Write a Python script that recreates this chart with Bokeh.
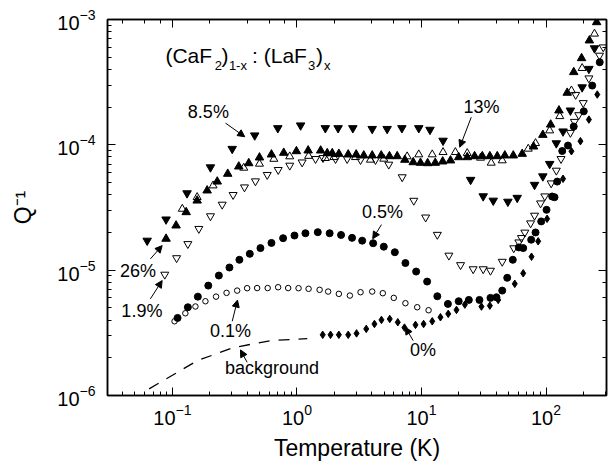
from bokeh.plotting import figure
from bokeh.models import (Label, Arrow, NormalHead, LogAxis, LogTicker,
                          CustomJSTickFormatter, Range1d)
from bokeh.embed import file_html
from bokeh.resources import INLINE

# ---------------- data ----------------
# 8.5 %  (filled down triangles)
t85 = [0.0627, 0.0889, 0.131, 0.202, 0.302, 0.458, 0.702, 1.07, 1.69, 2.14,
       2.81, 4.02, 5.30, 6.96, 9.51, 11.7, 14.9, 24.8, 31.3, 37.7,
       49.4, 58.7, 80.9, 94.3, 107, 121, 137, 157, 195, 221, 245]
q85 = [1.72e-5, 2.54e-5, 4.11e-5, 6.62e-5, 9.29e-5, 1.19e-4, 1.36e-4, 1.43e-4, 1.36e-4, 1.36e-4,
       1.36e-4, 1.34e-4, 1.34e-4, 1.36e-4, 1.36e-4, 1.32e-4, 1.08e-4, 5.26e-5, 3.89e-5, 3.59e-5,
       3.52e-5, 3.78e-5, 4.80e-5, 5.61e-5, 7.05e-5, 1.03e-4, 1.28e-4, 1.88e-4, 2.88e-4, 4.04e-4, 5.90e-4]

# 26 %  (filled up triangles)
t26 = [0.0889, 0.107, 0.129, 0.158, 0.190, 0.229, 0.278, 0.341, 0.410, 0.500,
       0.624, 0.783, 0.99, 1.23, 1.55, 1.75, 1.92, 2.17, 2.58, 2.99,
       3.44, 4.02, 4.75, 5.53, 6.38, 7.35, 8.58, 9.82, 11.2, 12.9,
       14.8, 17.1, 19.9, 23.3, 26.7, 30.8, 35.4, 40.6, 46.7, 54.6,
       64.4, 79.4, 94.3, 109, 127, 148, 167, 193, 223, 255]
q26 = [1.78e-5, 2.27e-5, 2.90e-5, 3.59e-5, 4.32e-5, 5.09e-5, 5.87e-5, 6.71e-5, 7.13e-5, 7.92e-5,
       8.37e-5, 8.63e-5, 8.89e-5, 9.01e-5, 9.00e-5, 8.57e-5, 8.57e-5, 8.47e-5, 8.37e-5, 8.37e-5,
       8.22e-5, 8.22e-5, 8.22e-5, 8.11e-5, 8.11e-5, 7.59e-5, 7.26e-5, 7.18e-5, 7.13e-5, 7.18e-5,
       7.36e-5, 7.50e-5, 7.96e-5, 7.96e-5, 8.11e-5, 8.11e-5, 8.11e-5, 8.11e-5, 8.22e-5, 8.22e-5,
       8.47e-5, 9.69e-5, 1.20e-4, 1.45e-4, 1.88e-4, 2.60e-4, 3.80e-4, 4.91e-4, 6.80e-4, 9.51e-4]

# 13 %  (open up triangles)
t13 = [0.120, 0.158, 0.212, 0.374, 0.500, 0.652, 0.875, 1.24, 1.69, 1.98,
       2.95, 3.89, 4.98, 7.67, 9.51, 12.2, 14.9, 18.7, 23.3, 29.8,
       36.3, 44.5, 72.0, 82.4, 107, 129, 160, 195, 245]
q13 = [3.08e-5, 3.82e-5, 4.73e-5, 6.55e-5, 7.05e-5, 7.71e-5, 8.07e-5, 8.14e-5, 7.82e-5, 7.96e-5,
       7.96e-5, 7.59e-5, 7.73e-5, 8.07e-5, 8.37e-5, 8.37e-5, 8.73e-5, 8.73e-5, 8.57e-5, 7.87e-5,
       7.18e-5, 7.50e-5, 9.29e-5, 1.03e-4, 1.30e-4, 1.69e-4, 2.71e-4, 4.09e-4, 7.69e-4]

# 1.9 %  (open down triangles)
t19 = [0.0868, 0.108, 0.133, 0.163, 0.202, 0.251, 0.307, 0.379, 0.464, 0.577,
       0.707, 0.875, 1.10, 1.41, 1.62, 2.04, 2.53, 3.24, 4.27, 5.46,
       7.00, 8.67, 10.8, 13.4, 16.6, 20.6, 26.0, 31.3, 35.8, 44.5,
       55.1, 60.5, 63.5, 67.6, 75.2, 80.9, 90.4, 97.8, 110, 121,
       132, 157, 169, 173, 183, 199, 221, 269, 288]
q19 = [9.23e-6, 1.25e-5, 1.62e-5, 2.14e-5, 2.70e-5, 3.34e-5, 3.99e-5, 4.59e-5, 5.13e-5, 5.77e-5,
       6.32e-5, 6.84e-5, 7.26e-5, 7.73e-5, 7.87e-5, 7.73e-5, 7.73e-5, 7.59e-5, 7.59e-5, 6.97e-5,
       5.53e-5, 3.59e-5, 2.64e-5, 1.92e-5, 1.31e-5, 1.10e-5, 1.02e-5, 1.02e-5, 9.93e-6, 1.17e-5,
       1.50e-5, 1.67e-5, 1.81e-5, 2.00e-5, 2.37e-5, 2.73e-5, 3.42e-5, 3.89e-5, 4.94e-5, 6.24e-5,
       7.73e-5, 1.25e-4, 1.53e-4, 2.51e-4, 1.73e-4, 2.16e-4, 3.40e-4, 5.16e-4, 6.01e-4]

# 0.5 %  (filled circles)
t05 = [0.110, 0.133, 0.160, 0.194, 0.236, 0.287, 0.345, 0.418, 0.509, 0.624,
       0.774, 0.955, 1.17, 1.47, 1.83, 2.26, 2.77, 3.34, 4.09, 4.98,
       6.11, 7.43, 9.06, 11.1, 13.4, 16.3, 19.9, 24.0, 29.2, 35.8,
       40.0, 44.5, 48.8, 54.1, 60.5, 65.6, 76.0, 82.4, 91.5, 101,
       112, 117, 123, 135, 150, 167, 201, 235, 270]
q05 = [4.16e-6, 5.06e-6, 6.15e-6, 7.53e-6, 9.06e-6, 1.05e-5, 1.21e-5, 1.35e-5, 1.50e-5, 1.65e-5,
       1.80e-5, 1.89e-5, 1.97e-5, 2.01e-5, 1.97e-5, 1.91e-5, 1.81e-5, 1.72e-5, 1.64e-5, 1.54e-5,
       1.39e-5, 1.14e-5, 9.75e-6, 8.11e-6, 6.19e-6, 5.38e-6, 5.65e-6, 5.79e-6, 5.79e-6, 6.01e-6,
       6.08e-6, 6.87e-6, 8.69e-6, 1.21e-5, 1.52e-5, 1.50e-5, 1.75e-5, 2.00e-5, 2.45e-5, 3.03e-5,
       3.87e-5, 3.82e-5, 5.09e-5, 8.93e-5, 9.87e-5, 1.40e-4, 1.85e-4, 2.97e-4, 4.56e-4]

# 0.1 %  (open circles)
t01 = [0.104, 0.127, 0.153, 0.184, 0.224, 0.272, 0.331, 0.398, 0.479, 0.582,
       0.706, 0.850, 1.03, 1.24, 1.52, 1.78, 2.17, 2.66, 3.24, 4.02,
       4.89, 5.99, 7.43, 9.24, 11.4]
q01 = [3.91e-6, 4.53e-6, 5.13e-6, 5.65e-6, 6.15e-6, 6.59e-6, 6.87e-6, 7.18e-6, 7.20e-6, 7.20e-6,
       7.31e-6, 7.20e-6, 7.18e-6, 7.10e-6, 6.97e-6, 6.75e-6, 6.47e-6, 6.27e-6, 6.67e-6, 6.75e-6,
       6.55e-6, 6.01e-6, 5.45e-6, 5.06e-6, 4.79e-6]

# 0 %  (filled diamonds)
t00 = [1.61, 1.86, 2.17, 2.58, 3.01, 3.60, 4.19, 4.77, 5.56, 6.45,
       7.30, 8.95, 10.4, 12.2, 14.2, 16.4, 19.1, 22.3, 30.3, 35.4,
       41.3, 56.1, 65.6, 76.5, 86.5, 102, 137, 160, 189, 221, 258]
q00 = [3.05e-6, 3.05e-6, 3.05e-6, 3.05e-6, 3.13e-6, 3.40e-6, 3.72e-6, 4.01e-6, 4.08e-6, 3.84e-6,
       3.48e-6, 3.66e-6, 3.72e-6, 3.91e-6, 4.21e-6, 4.48e-6, 4.82e-6, 5.31e-6, 5.12e-6, 5.21e-6,
       5.79e-6, 7.78e-6, 9.44e-6, 1.28e-5, 1.70e-5, 2.57e-5, 5.36e-5, 8.89e-5, 1.07e-4, 1.59e-4, 2.52e-4]

# background (dashed line)
bg_t = [0.065, 0.159, 0.309, 0.612, 1.21]
bg_q = [1.13e-6, 1.90e-6, 2.41e-6, 2.74e-6, 2.84e-6]

x_lo, x_hi = 0.0301, 306.0
y_lo, y_hi = 1e-6, 1e-3

FONT = "Liberation Sans"

p = figure(width=610, height=464, x_axis_type="log", y_axis_type="log",
           x_range=Range1d(x_lo, x_hi), y_range=Range1d(y_lo, y_hi),
           output_backend="svg", toolbar_location=None,
           min_border_left=107, min_border_right=4, min_border_top=19,
           min_border_bottom=69)
p.grid.visible = False
p.background_fill_color = "white"
p.border_fill_color = "white"
p.outline_line_color = "black"
p.outline_line_width = 1.5

def style_axis(ax):
    ax.axis_line_color = "black"
    ax.axis_line_width = 1.5
    ax.major_tick_in = 8
    ax.major_tick_out = 0
    ax.minor_tick_in = 4
    ax.minor_tick_out = 0
    ax.major_tick_line_color = "black"
    ax.minor_tick_line_color = "black"
    ax.major_tick_line_width = 1
    ax.minor_tick_line_width = 1

for ax in (p.xaxis[0], p.yaxis[0]):
    style_axis(ax)
    ax.major_label_text_font = FONT
    ax.major_label_text_font_size = "20px"
    ax.major_label_text_color = "black"
    ax.axis_label_text_font = FONT
    ax.axis_label_text_font_size = "23px"
    ax.axis_label_text_font_style = "normal"
    ax.axis_label_text_color = "black"

p.xaxis[0].major_label_standoff = 8
p.xaxis[0].axis_label = "Temperature (K)"
p.xaxis[0].axis_label_standoff = 7
p.yaxis[0].major_label_standoff = 12
p.yaxis[0].axis_label = "Q\u207b\u00b9"
p.yaxis[0].axis_label_standoff = 18

for side in ("right", "above"):
    ax = LogAxis(ticker=LogTicker(),
                 formatter=CustomJSTickFormatter(code="return ''"))
    style_axis(ax)
    ax.major_label_text_font_size = "0px"
    ax.major_label_standoff = 0
    p.add_layout(ax, side)

# ---------------- marks ----------------
p.line(bg_t, bg_q, line_color="black", line_width=1.3, line_dash="11 9")
p.scatter(t85, q85, marker="inverted_triangle", size=8.5,
          fill_color="black", line_color="black")
p.scatter(t26, q26, marker="triangle", size=8.5,
          fill_color="black", line_color="black")
p.scatter(t13, q13, marker="triangle", size=8,
          fill_color=None, line_color="black", line_width=1)
p.scatter(t19, q19, marker="inverted_triangle", size=8,
          fill_color=None, line_color="black", line_width=1)
p.scatter(t05, q05, marker="circle", size=7,
          fill_color="black", line_color="black")
p.scatter(t01, q01, marker="circle", size=5.5,
          fill_color=None, line_color="black", line_width=1)
p.scatter(t00, q00, marker="diamond", size=7.5,
          fill_color="black", line_color="black")

# ---------------- text ----------------
def add_text(x, y, text, size, align="left", baseline="alphabetic"):
    p.add_layout(Label(x=x, y=y, text=text, text_font=FONT,
                       text_font_size=size, text_color="black",
                       text_align=align, text_baseline=baseline))

# compound formula (CaF2)1-x : (LaF3)x
main_y, sub_y = 5.12e-4, 4.26e-4
add_text(0.0879, main_y, "(CaF", "21px")
add_text(0.219, sub_y, "2", "13px")
add_text(0.248, main_y, ")", "21px")
add_text(0.284, sub_y, "1-x", "13px")
add_text(0.436, main_y, ": (LaF", "21px")
add_text(1.225, sub_y, "3", "13px")
add_text(1.422, main_y, ")", "21px")
add_text(1.648, sub_y, "x", "13px")

# series labels
add_text(0.133, 1.83e-4, "8.5%", "18px")
add_text(21.7, 1.99e-4, "13%", "18px")
add_text(0.0379, 9.88e-6, "26%", "18px")
add_text(0.0389, 4.74e-6, "1.9%", "18px")
add_text(3.33, 2.89e-5, "0.5%", "18px")
add_text(0.200, 3.25e-6, "0.1%", "18px")
add_text(0.264, 1.67e-6, "background", "18px")
add_text(8.09, 2.30e-6, "0%", "18px")

# arrows: (x_start, y_start, x_end, y_end)
arrows = [
    (0.267, 1.49e-4, 0.381, 1.16e-4),    # 8.5%
    (25.1, 1.66e-4, 20.3, 9.57e-5),      # 13%
    (0.0665, 1.23e-5, 0.0827, 1.57e-5),  # 26%
    (0.0665, 5.90e-6, 0.0827, 8.26e-6),  # 1.9%
    (4.77, 2.31e-5, 4.06, 1.78e-5),      # 0.5%
    (0.302, 3.91e-6, 0.333, 5.77e-6),    # 0.1%
    (0.398, 1.84e-6, 0.352, 2.31e-6),    # background
    (8.57, 2.74e-6, 7.43, 3.50e-6),      # 0%
]
for xs, ys, xe, ye in arrows:
    p.add_layout(Arrow(end=NormalHead(size=7, fill_color="black",
                                      line_color="black", line_width=1),
                       x_start=xs, y_start=ys, x_end=xe, y_end=ye,
                       line_color="black", line_width=1))

open("out.html", "w").write(file_html(p, INLINE))
